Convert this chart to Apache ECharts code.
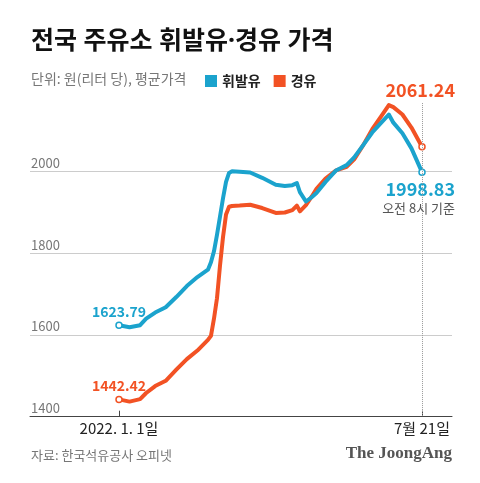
<!DOCTYPE html>
<html><head><meta charset="utf-8">
<script src="https://cdn.jsdelivr.net/npm/echarts@6/dist/echarts.min.js"></script>
<style>html,body{margin:0;padding:0;background:#fff}#c{width:480px;height:483px}</style>
</head><body><div id="c"></div>
<script>
const dates = ['2022-01-01','2022-01-08','2022-01-15','2022-01-19','2022-01-25','2022-02-01','2022-02-08','2022-02-15','2022-02-22','2022-03-01',
'2022-03-03','2022-03-05','2022-03-07','2022-03-09','2022-03-11','2022-03-13','2022-03-15','2022-03-17','2022-03-22','2022-03-29',
'2022-04-06','2022-04-15','2022-04-21','2022-04-26','2022-04-29','2022-05-01','2022-05-05','2022-05-09','2022-05-12','2022-05-18',
'2022-05-25','2022-06-01','2022-06-06','2022-06-12','2022-06-18','2022-06-24','2022-06-29','2022-07-02','2022-07-08','2022-07-14','2022-07-21'];
const gasoline = [1623.79,1619,1624,1640,1655,1668,1693,1720,1742,1760,
1778,1805,1845,1890,1935,1975,1997,2001,2000,1998,
1985,1968,1965,1967,1972,1950,1927,1938,1948,1975,
2003,2016,2035,2065,2096,2120,2140,2120,2094,2057,1998.83];
const diesel = [1442.42,1437,1443,1458,1475,1488,1515,1541,1562,1588,
1598,1640,1690,1770,1840,1895,1914,1916,1917,1919,
1911,1899,1900,1906,1917,1903,1918,1940,1958,1983,
2003,2012,2030,2065,2104,2136,2163,2158,2140,2108,2061.24];
const seriesNames = ['휘발유','경유'];
const tickDates = ['2022-01-01','2022-07-21'];
const tickLabels = ['2022. 1. 1일','7월 21일'];
const endNote = '오전 8시 기준';

const DAY=86400000;
function ts(s){const p=s.split('-').map(Number);return Date.UTC(p[0],p[1]-1,p[2]);}
const t0 = ts(tickDates[0]);
const dayOf = s => Math.round((ts(s)-t0)/DAY);
const tickDays = tickDates.map(dayOf);
const BLUE='#1ba3cd', ORANGE='#f25224';
const FONT="'Noto Sans CJK KR','Noto Sans',sans-serif";

function build(vals, color, startLabel, endLabel){
  const n = vals.length;
  return vals.map((v,i)=>{
    const item = {value:[dayOf(dates[i]), v]};
    if(i===0||i===n-1){
      item.symbol='circle'; item.symbolSize=6;
      item.itemStyle={color:'#fff',borderColor:color,borderWidth:1.5};
      item.label = i===0?startLabel:endLabel;
    }
    return item;
  });
}
const fmt = p => p.value[1].toFixed(2);
const startLbl = c => ({show:true,position:'top',distance:3,formatter:fmt,color:c,fontSize:14,fontWeight:'bold',fontFamily:FONT});

const chart = echarts.init(document.getElementById('c'), null, {renderer:'canvas'});
chart.setOption({
  animation:false,
  backgroundColor:'#fff',
  textStyle:{fontFamily:FONT},
  title:[
    {text:'전국 주유소 휘발유·경유 가격',left:31,top:29,padding:0,textStyle:{fontSize:25,fontWeight:'bold',color:'#111',fontFamily:"'Noto Sans','Noto Sans CJK KR',sans-serif"}},
    {text:'단위: 원(리터 당), 평균가격',left:31,top:72,padding:0,textStyle:{fontSize:14,fontWeight:'normal',color:'#777',fontFamily:FONT}},
    {text:'자료: 한국석유공사 오피넷',left:31,top:449,padding:0,textStyle:{fontSize:13,fontWeight:'normal',color:'#777',fontFamily:FONT}},
    {text:'The JoongAng',right:28,top:445,padding:0,textStyle:{fontSize:17,fontWeight:'bold',color:'#555',fontFamily:"'Liberation Serif',serif"}}
  ],
  legend:{data:seriesNames,left:205,top:74,padding:0,itemWidth:12,itemHeight:12,itemGap:13,icon:'rect',
    textStyle:{fontSize:14,fontWeight:'bold',color:'#222',fontFamily:FONT}},
  grid:{left:30,right:28,top:90,height:326.7},
  xAxis:{type:'value',min:-59.04,max:220.9,
    axisLine:{lineStyle:{color:'#444',width:1}},
    axisTick:{show:true,inside:true,length:6,customValues:tickDays,lineStyle:{color:'#444'}},
    axisLabel:{customValues:tickDays,formatter:v=>{const i=tickDays.indexOf(v);return i<0?'':tickLabels[i];},color:'#222',fontSize:15,margin:4,fontFamily:FONT},
    splitLine:{show:false}},
  yAxis:{type:'value',min:1400,max:2200,interval:200,
    axisLine:{show:false},axisTick:{show:false},
    splitLine:{lineStyle:{color:'#ccc'},showMaxLine:false},
    axisLabel:{inside:true,verticalAlign:'bottom',margin:1,padding:[0,0,2,0],color:'#777',fontSize:13,showMaxLabel:false,fontFamily:FONT,formatter:v=>String(v)}},
  series:[
    {name:seriesNames[1],type:'line',z:2,color:ORANGE,symbol:'none',showSymbol:true,
      lineStyle:{width:4,join:'round',cap:'round'},emphasis:{disabled:true},
      data:build(diesel,ORANGE,startLbl(ORANGE),
        {show:true,position:'top',distance:44,align:'right',offset:[33,0],formatter:fmt,color:ORANGE,fontSize:18,fontWeight:'bold',fontFamily:FONT}),
      markLine:{silent:true,symbol:'none',label:{show:false},lineStyle:{type:'dotted',color:'#999',width:1},
        data:[[{coord:[tickDays[1],2168]},{coord:[tickDays[1],1400]}]]}},
    {name:seriesNames[0],type:'line',z:3,color:BLUE,symbol:'none',showSymbol:true,
      lineStyle:{width:4,join:'round',cap:'round'},emphasis:{disabled:true},
      data:build(gasoline,BLUE,startLbl(BLUE),
        {show:true,position:'bottom',distance:3,align:'right',offset:[33,0],
          formatter:p=>'{a|'+p.value[1].toFixed(2)+'}\n{b|'+endNote+'}',
          rich:{a:{fontSize:18,fontWeight:'bold',color:BLUE,lineHeight:20,align:'right',fontFamily:FONT},
                b:{fontSize:13,color:'#555',lineHeight:19,align:'right',fontFamily:FONT}}})}
  ]
});
</script></body></html>
